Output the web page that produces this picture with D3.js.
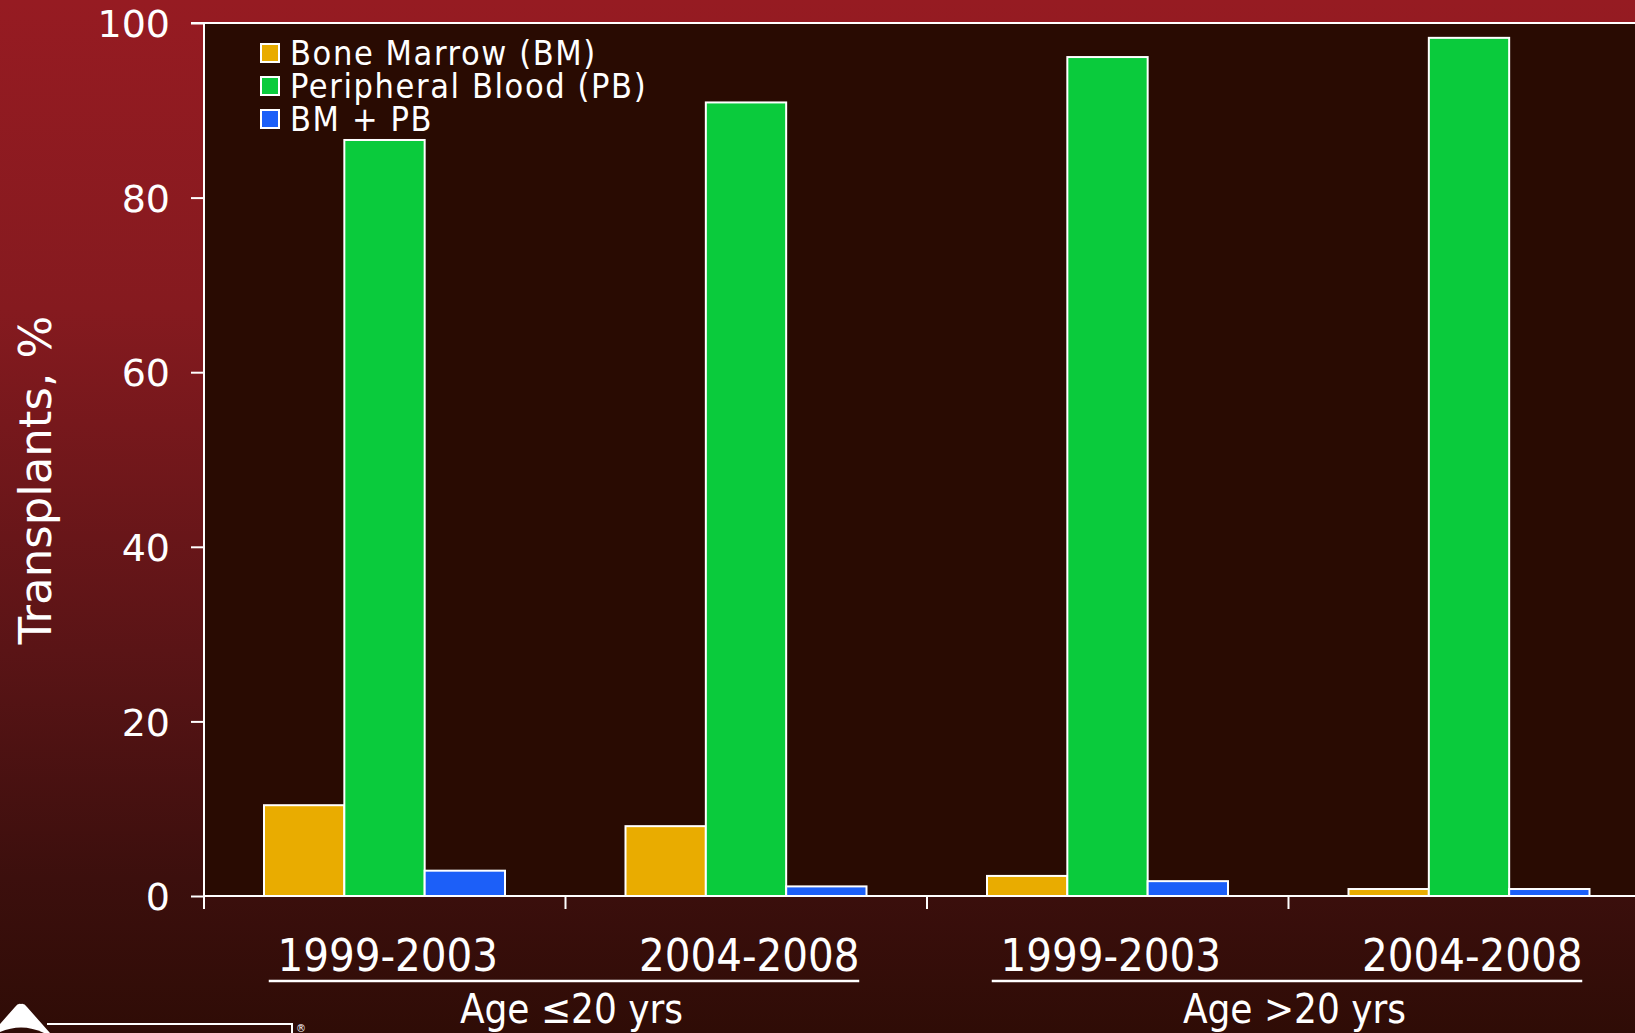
<!DOCTYPE html>
<html><head><meta charset="utf-8">
<script src="https://cdn.jsdelivr.net/npm/d3@7"></script>
<style>html,body{margin:0;padding:0;overflow:hidden;background:#2f0c06}</style>
</head><body>
<svg id="chart" width="1635" height="1033"></svg>
<script>
const categories = ["1999-2003", "2004-2008", "1999-2003", "2004-2008"];
const groups = ["Age \u226420 yrs", "Age >20 yrs"];
const series = ["Bone Marrow (BM)", "Peripheral Blood (PB)", "BM + PB"];
const bmValues = [10.4, 8.0, 2.3, 0.8];
const pbValues = [86.6, 90.9, 96.1, 98.3];
const bmpbValues = [2.9, 1.1, 1.7, 0.8];
const yTicks = [0, 20, 40, 60, 80, 100];
const colors = ["#e9ac00", "#0acb3c", "#1c5ff8"];

(function () {
const W = 1635, H = 1033;
const svg = d3.select("#chart");
const defs = svg.append("defs");
const grad = defs.append("linearGradient").attr("id", "bg").attr("x1", 0).attr("y1", 0).attr("x2", 0).attr("y2", 1);
[[0, "#961b22"], [0.3, "#851a1f"], [0.63, "#5a1416"], [0.85, "#3c0f0d"], [1, "#2f0c06"]]
  .forEach(([o, c]) => grad.append("stop").attr("offset", o).attr("stop-color", c));
svg.append("rect").attr("width", W).attr("height", H).attr("fill", "url(#bg)");

const pLeft = 204, pTop = 23, pBottom = 896, bandW = 361.5;
const keys = categories.map((c, i) => i);
const x0 = d3.scaleBand().domain(keys).range([pLeft, pLeft + bandW * 4]).padding(0);
const x1 = d3.scaleBand().domain(series).range([60, 301]).padding(0);
const y = d3.scaleLinear().domain([0, 100]).range([pBottom, pTop]);

svg.append("rect").attr("x", pLeft).attr("y", pTop).attr("width", W - pLeft).attr("height", pBottom - pTop).attr("fill", "#290b02");

const data = keys.map(i => ({i, vals: [bmValues[i], pbValues[i], bmpbValues[i]]}));
svg.append("g").selectAll("g.cat").data(data).join("g").attr("class", "cat")
  .attr("transform", d => `translate(${x0(d.i)},0)`)
  .selectAll("rect").data(d => d.vals.map((v, k) => ({v, k})))
  .join("rect")
  .attr("x", d => x1(series[d.k]))
  .attr("y", d => y(d.v))
  .attr("width", x1.bandwidth())
  .attr("height", d => y(0) - y(d.v))
  .attr("fill", d => colors[d.k])
  .attr("stroke", "#ffffff").attr("stroke-width", 2);

const yAxis = d3.axisLeft(y).tickValues(yTicks).tickSize(13).tickFormat(d3.format("d"));
const ya = svg.append("g").attr("transform", `translate(${pLeft},0)`).call(yAxis);
ya.select(".domain").remove();
ya.selectAll(".tick line").attr("stroke", "#fff").attr("stroke-width", 2);
ya.selectAll(".tick text").attr("fill", "#fff").attr("font-family", "DejaVu Sans").attr("font-size", 38)
  .attr("x", -34).attr("dy", "0.36em");
svg.append("line").attr("x1", pLeft).attr("x2", pLeft).attr("y1", pTop - 1).attr("y2", pBottom + 13).attr("stroke", "#fff").attr("stroke-width", 2);
svg.append("line").attr("x1", pLeft - 13).attr("x2", W).attr("y1", pTop).attr("y2", pTop).attr("stroke", "#fff").attr("stroke-width", 2);

svg.append("line").attr("x1", pLeft).attr("x2", W).attr("y1", pBottom).attr("y2", pBottom).attr("stroke", "#fff").attr("stroke-width", 2);
svg.selectAll("line.xt").data(keys.slice(1)).join("line").attr("class", "xt")
  .attr("x1", d => x0(d)).attr("x2", d => x0(d)).attr("y1", pBottom).attr("y2", pBottom + 13)
  .attr("stroke", "#fff").attr("stroke-width", 2);

const lbl = "DejaVu Sans Condensed";
svg.selectAll("text.cat").data(keys).join("text").attr("class", "cat")
  .attr("x", d => x0(d) + x0.bandwidth() / 2 + 3).attr("y", 971)
  .attr("text-anchor", "middle").attr("fill", "#fff").attr("font-family", lbl).attr("font-size", 45)
  .text(d => categories[d]);
groups.forEach((gname, gi) => {
  const a = x0(gi * 2) + x0.bandwidth() / 2, b = x0(gi * 2 + 1) + x0.bandwidth() / 2;
  svg.append("line").attr("x1", a - 116).attr("x2", b + 113).attr("y1", 981).attr("y2", 981)
    .attr("stroke", "#fff").attr("stroke-width", 2.5);
  svg.append("text").attr("x", (a + b) / 2 + 6).attr("y", 1023).attr("text-anchor", "middle")
    .attr("fill", "#fff").attr("font-family", lbl).attr("font-size", 40).text(gname);
});

svg.append("text").attr("transform", "translate(51,480) rotate(-90)").attr("text-anchor", "middle")
  .attr("fill", "#fff").attr("font-family", "DejaVu Sans").attr("font-size", 45).text("Transplants, %");

const lg = svg.append("g");
series.forEach((s, k) => {
  const cy = 53 + k * 33;
  lg.append("rect").attr("x", 261).attr("y", cy - 9).attr("width", 18).attr("height", 18)
    .attr("fill", colors[k]).attr("stroke", "#fff").attr("stroke-width", 2);
  lg.append("text").attr("x", 290).attr("y", cy + 12).attr("fill", "#fff").attr("font-family", lbl)
    .attr("font-size", 34).attr("letter-spacing", 1.6).text(s);
});

const logo = svg.append("g");
logo.append("path").attr("d", "M21,1004 Q24,1003 27,1007 L50,1033 L-8,1033 L15,1007 Q18,1003 21,1004 Z").attr("fill", "#fff");
logo.append("path").attr("d", "M-2,1033 Q21,1022 44,1033 Z").attr("fill", "#2f0c06");
logo.append("path").attr("d", "M47,1024 L292,1024 L292,1033").attr("fill", "none").attr("stroke", "#fff").attr("stroke-width", 2);
logo.append("text").attr("x", 296).attr("y", 1032).attr("fill", "#fff").attr("font-family", "DejaVu Sans").attr("font-size", 10).text("\u00ae");
})();
</script>
</body></html>
